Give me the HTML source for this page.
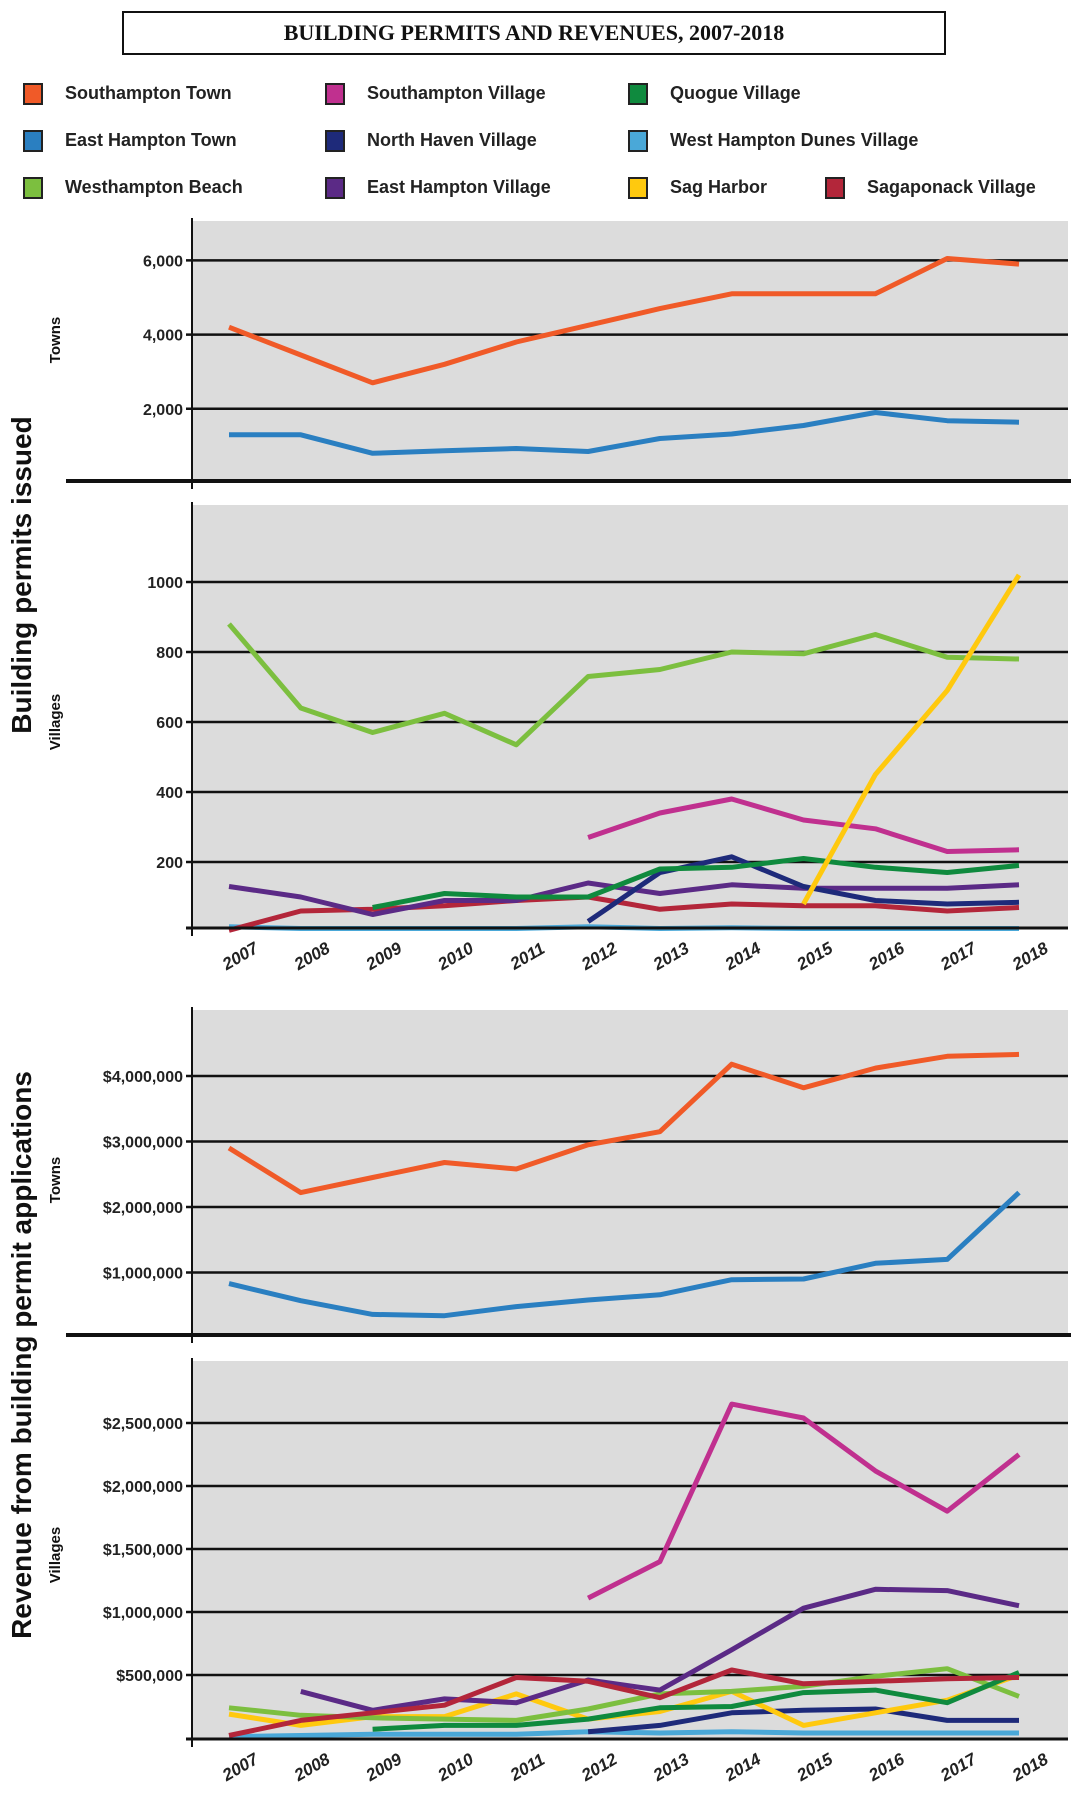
<!DOCTYPE html>
<html><head><meta charset="utf-8"><style>
html,body{margin:0;padding:0;background:#fff;}
body{width:1071px;height:1800px;position:relative;overflow:hidden;font-family:"Liberation Sans",sans-serif;}
#title{position:absolute;left:122px;top:11px;width:820px;height:40px;border:2.5px solid #111;text-align:center;font-family:"Liberation Serif",serif;font-weight:bold;font-size:22px;line-height:40px;letter-spacing:0px;color:#111;}
.leg{position:absolute;font-weight:bold;font-size:18px;color:#222;height:22px;line-height:22px;}
.leg span.sw{position:absolute;left:0;top:1px;width:16px;height:18px;border:2px solid #222;}
.leg span.tx{position:absolute;left:42px;white-space:nowrap;}
</style></head><body>
<div id="title">BUILDING PERMITS AND REVENUES, 2007-2018</div>
<div id="legend"></div>
<svg id="chart" width="1071" height="1800" style="position:absolute;left:0;top:0"></svg>
<script>
const years=[2007,2008,2009,2010,2011,2012,2013,2014,2015,2016,2017,2018];
const names=["Southampton Town","Southampton Village","Quogue Village","East Hampton Town","North Haven Village","West Hampton Dunes Village","Westhampton Beach","East Hampton Village","Sag Harbor","Sagaponack Village"];
const colors=["#f05a28","#c0308f","#0f8a3e","#2a7fc1","#1e2a7a","#4aa8d8","#7cbf3f","#5b2a86","#ffc90e","#b3263a"];
const N=null;
// Permits - towns
const pSouthamptonTown=[4200,3450,2700,3200,3800,4250,4700,5100,5100,5100,6050,5900];
const pEastHamptonTown=[1300,1300,800,870,930,850,1200,1320,1550,1900,1680,1640];
// Permits - villages
const pWesthamptonBeach=[880,640,570,625,535,730,750,800,795,850,785,780];
const pSagHarbor=[N,N,N,N,N,N,N,N,80,450,690,1020];
const pSouthamptonVillage=[N,N,N,N,N,270,340,380,320,295,230,235];
const pQuogue=[N,N,70,110,100,100,180,185,210,185,170,190];
const pNorthHaven=[N,N,N,N,N,30,170,215,130,90,80,85];
const pEastHamptonVillage=[130,100,50,90,90,140,110,135,125,125,125,135];
const pSagaponack=[5,60,65,75,90,100,65,80,75,75,60,70];
const pWHDunes=[15,10,10,10,10,15,10,12,10,10,10,10];
// Revenue - towns ($)
const rSouthamptonTown=[2900000,2220000,2450000,2680000,2580000,2950000,3150000,4180000,3820000,4120000,4300000,4330000];
const rEastHamptonTown=[830000,570000,360000,340000,480000,580000,660000,890000,900000,1140000,1200000,2220000];
// Revenue - villages ($)
const rSouthamptonVillage=[N,N,N,N,N,1110000,1400000,2650000,2540000,2120000,1800000,2250000];
const rEastHamptonVillage=[N,370000,220000,310000,280000,460000,380000,700000,1030000,1180000,1170000,1050000];
const rSagaponack=[20000,140000,200000,260000,480000,450000,320000,540000,430000,450000,470000,480000];
const rWesthamptonBeach=[240000,180000,160000,150000,140000,230000,350000,370000,410000,490000,550000,330000];
const rSagHarbor=[190000,100000,170000,170000,350000,150000,210000,370000,100000,200000,300000,500000];
const rQuogue=[N,N,70000,100000,100000,150000,240000,250000,360000,380000,280000,520000];
const rNorthHaven=[N,N,N,N,N,50000,100000,200000,220000,230000,140000,140000];
const rWHDunes=[10000,20000,30000,30000,30000,50000,40000,50000,40000,40000,40000,40000];
const ticks1=[2000,4000,6000], ticks1L=["2,000","4,000","6,000"];
const ticks2=[200,400,600,800,1000], ticks2L=["200","400","600","800","1000"];
const ticks3=[1000000,2000000,3000000,4000000], ticks3L=["$1,000,000","$2,000,000","$3,000,000","$4,000,000"];
const ticks4=[500000,1000000,1500000,2000000,2500000], ticks4L=["$500,000","$1,000,000","$1,500,000","$2,000,000","$2,500,000"];

const NS="http://www.w3.org/2000/svg";
const svg=document.getElementById('chart');
function el(t,a,p){const e=document.createElementNS(NS,t);for(const k in a)e.setAttribute(k,a[k]);(p||svg).appendChild(e);return e;}
const X0=229,X1=1019;
function xs(i){return X0+(X1-X0)*i/11;}

const leg=document.getElementById('legend');
const legPos=[[23,82],[325,82],[628,82],[23,129],[325,129],[628,129],[23,176],[325,176],[628,176],[825,176]];
names.forEach((n,i)=>{
  const d=document.createElement('div');d.className='leg';
  
  
  d.style.left=legPos[i][0]+'px';d.style.top=legPos[i][1]+'px';
  d.innerHTML='<span class="sw" style="background:'+colors[i]+'"></span><span class="tx">'+n+'</span>';
  leg.appendChild(d);
});

function panel(name,top,bottom,zeroY,pxPerUnit,ticks,tickL,series,showX){
  const g=el('g',{});
  
  
  const ys=v=>zeroY-v*pxPerUnit;
  el('rect',{x:193,y:top,width:875,height:bottom-top,fill:'#dcdcdc'},g);
  ticks.forEach((t,i)=>{
    const l=el('line',{x1:186,x2:1068,y1:ys(t),y2:ys(t),stroke:'#111','stroke-width':2.5},g);
    
    const tx=el('text',{x:183,y:ys(t)+6,'text-anchor':'end','font-size':16,'font-weight':'bold','font-family':'Liberation Sans Narrow, Liberation Sans, sans-serif',fill:'#222'},g);
    tx.textContent=tickL[i];
    
  });
  series.forEach(s=>{
    let d='';let pen=false;
    s.data.forEach((v,i)=>{if(v===null){pen=false;return;}d+=(pen?'L':'M')+xs(i).toFixed(1)+' '+ys(v).toFixed(1)+' ';pen=true;});
    const p=el('path',{d:d,fill:'none',stroke:s.c,'stroke-width':5,'stroke-linejoin':'round'},g);
    
  });
  const ax=el('line',{x1:192,x2:192,y1:top-3,y2:bottom+8,stroke:'#111','stroke-width':2},g);
  
  if(showX){
    el('line',{x1:186,x2:1068,y1:bottom,y2:bottom,stroke:'#111','stroke-width':3},g);
    years.forEach((y,i)=>{
      const t=el('text',{x:0,y:0,transform:'translate('+(xs(i)+14)+','+(bottom+33)+') rotate(-30)','text-anchor':'middle','font-size':17,'font-weight':'bold','font-style':'italic',fill:'#222'},g);
      t.textContent=y;
      
    });
  } else {
    el('line',{x1:66,x2:1071,y1:bottom,y2:bottom,stroke:'#111','stroke-width':4},g);
  }
}
const C=colors;
panel('towns-permits-panel',221,481,483,0.0371,ticks1,ticks1L,[
 {n:'southampton-town',c:C[0],data:pSouthamptonTown},{n:'east-hampton-town',c:C[3],data:pEastHamptonTown}],false);
panel('villages-permits-panel',505,928,932,0.35,ticks2,ticks2L,[
 {n:'west-hampton-dunes',c:C[5],data:pWHDunes},{n:'sagaponack',c:C[9],data:pSagaponack},
 {n:'east-hampton-village',c:C[7],data:pEastHamptonVillage},{n:'north-haven',c:C[4],data:pNorthHaven},
 {n:'quogue',c:C[2],data:pQuogue},{n:'southampton-village',c:C[1],data:pSouthamptonVillage},
 {n:'westhampton-beach',c:C[6],data:pWesthamptonBeach},{n:'sag-harbor',c:C[8],data:pSagHarbor}],true);
panel('towns-revenue-panel',1010,1335,1338,0.0000655,ticks3,ticks3L,[
 {n:'southampton-town',c:C[0],data:rSouthamptonTown},{n:'east-hampton-town',c:C[3],data:rEastHamptonTown}],false);
panel('villages-revenue-panel',1361,1739,1738,0.000126,ticks4,ticks4L,[
 {n:'west-hampton-dunes',c:C[5],data:rWHDunes},{n:'north-haven',c:C[4],data:rNorthHaven},
 {n:'sag-harbor',c:C[8],data:rSagHarbor},{n:'westhampton-beach',c:C[6],data:rWesthamptonBeach},
 {n:'quogue',c:C[2],data:rQuogue},{n:'east-hampton-village',c:C[7],data:rEastHamptonVillage},
 {n:'sagaponack',c:C[9],data:rSagaponack},{n:'southampton-village',c:C[1],data:rSouthamptonVillage}],true);

function vlabel(txt,x,y,size,name){
  const t=el('text',{x:0,y:0,transform:'translate('+x+','+y+') rotate(-90)','text-anchor':'middle','font-size':size,'font-weight':'bold',fill:'#111'});
  t.textContent=txt;
  
  
}
vlabel('Building permits issued',31,575,28,'permits-axis-title');
vlabel('Revenue from building permit applications',31,1355,28,'revenue-axis-title');
vlabel('Towns',60,340,15,'towns-permits-label');
vlabel('Villages',60,722,15,'villages-permits-label');
vlabel('Towns',60,1180,15,'towns-revenue-label');
vlabel('Villages',60,1555,15,'villages-revenue-label');
</script>
</body></html>
